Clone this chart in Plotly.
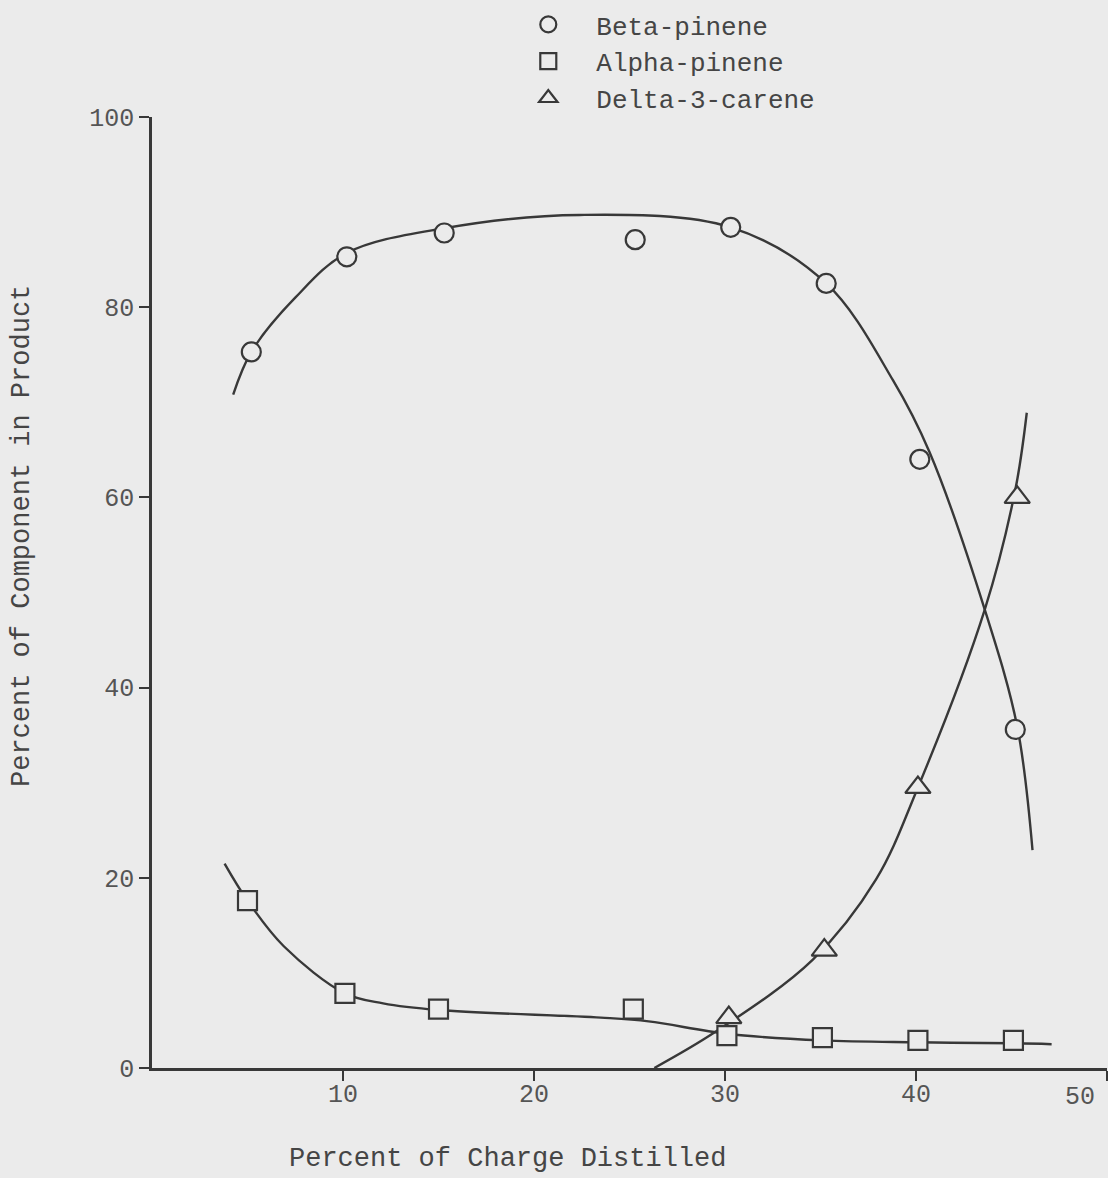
import plotly.graph_objects as go

# ---- data ----
beta_x = [5.2, 10.2, 15.3, 25.3, 30.3, 35.3, 40.2, 45.2]
beta_y = [75.3, 85.3, 87.8, 87.1, 88.4, 82.5, 64.0, 35.6]
alpha_x = [5.0, 10.1, 15.0, 25.2, 30.1, 35.1, 40.1, 45.1]
alpha_y = [17.6, 7.85, 6.2, 6.2, 3.4, 3.2, 2.9, 2.9]
delta_x = [30.2, 35.2, 40.1, 45.3]
delta_y = [5.3, 12.4, 29.5, 60.0]

# hand-drawn smooth curves
beta_curve_x = [4.25, 5.2, 7.5, 10.2, 15.3, 22.4, 30.3, 35.3, 38.8, 40.7, 43.6, 45.3, 46.1]
beta_curve_y = [70.8, 75.3, 81.0, 85.7, 88.3, 89.7, 88.4, 82.5, 72.3, 64.8, 48.2, 35.9, 22.9]
alpha_curve_x = [3.8, 5.0, 6.9, 10.1, 12.1, 15.0, 23.5, 26.0, 30.1, 35.1, 40.1, 45.1, 47.1]
alpha_curve_y = [21.5, 17.6, 12.8, 7.85, 6.8, 6.1, 5.3, 4.9, 3.6, 2.9, 2.7, 2.6, 2.5]
delta_curve_x = [26.3, 29.5, 34.6, 37.9, 40.1, 43.6, 45.2, 45.8]
delta_curve_y = [0.0, 3.8, 11.4, 19.8, 29.5, 48.2, 60.8, 68.9]

x_ticks = [10, 20, 30, 40, 50]
x_ticktext = ["10", "20", "30", "40", ""]
y_ticks = [0, 20, 40, 60, 80, 100]

names = ["Beta-pinene", "Alpha-pinene", "Delta-3-carene"]
x_title = "Percent of Charge Distilled"
y_title = "Percent of Component in Product"

BG = "#ebebeb"
INK = "#383838"
TXT = "#454545"
FONT = "Liberation Mono, Courier New, monospace"

# plot area in pixels
L, R, T, B = 152, 1, 117, 110
W, H = 1108, 1178
pw = W - L - R
ph = H - T - B


def px_to_paper(px, py):
    return (px - L) / pw, (H - B - py) / ph


fig = go.Figure()

line_style = dict(color=INK, width=2.4, shape="spline", smoothing=1.0)
for cx, cy in [(beta_curve_x, beta_curve_y), (alpha_curve_x, alpha_curve_y),
               (delta_curve_x, delta_curve_y)]:
    fig.add_trace(go.Scatter(x=cx, y=cy, mode="lines", line=line_style,
                             showlegend=False, hoverinfo="skip"))

marker_specs = [
    (beta_x, beta_y, "circle", 19, names[0]),
    (alpha_x, alpha_y, "square", 19, names[1]),
    (delta_x, delta_y, "triangle-up", 22, names[2]),
]
for mx, my, sym, sz, nm in marker_specs:
    fig.add_trace(go.Scatter(
        x=mx, y=my, mode="markers", name=nm,
        marker=dict(symbol=sym, size=sz, color=BG,
                    line=dict(color=INK, width=2.2)),
    ))

xt_x, xt_y = px_to_paper(507, 1159)
yt_x, yt_y = px_to_paper(22, 536)

fig.update_layout(
    width=W, height=H,
    margin=dict(l=L, r=R, t=T, b=B),
    paper_bgcolor=BG, plot_bgcolor=BG,
    font=dict(family=FONT, color=TXT, size=24),
    legend=dict(x=0.3647, y=1.122, xanchor="left", yanchor="top",
                bgcolor="rgba(0,0,0,0)", itemwidth=86,
                font=dict(family=FONT, size=26, color=TXT)),
    xaxis=dict(range=[0, 50], showgrid=False, zeroline=False,
               showline=True, linecolor=INK, linewidth=2.5,
               ticks="outside", ticklen=10, tickwidth=2, tickcolor=INK,
               tickvals=x_ticks, ticktext=x_ticktext, ticklabelstandoff=-9,
               tickfont=dict(family=FONT, size=25, color="#555555")),
    yaxis=dict(range=[0, 100], showgrid=False, zeroline=False,
               showline=True, linecolor=INK, linewidth=2.5,
               ticks="outside", ticklen=10, tickwidth=2, tickcolor=INK,
               tickvals=y_ticks,
               tickfont=dict(family=FONT, size=25, color="#555555")),
    annotations=[
        dict(text="50", x=48.6, y=0, xref="x", yref="y", yshift=-29,
             xanchor="center", yanchor="middle",
             showarrow=False, font=dict(family=FONT, size=25, color="#555555")),
        dict(text=x_title, x=xt_x, y=xt_y, xref="paper", yref="paper",
             xanchor="center", yanchor="middle", showarrow=False,
             font=dict(family=FONT, size=27, color=TXT)),
        dict(text=y_title, x=yt_x, y=yt_y, xref="paper", yref="paper",
             xanchor="center", yanchor="middle", showarrow=False,
             textangle=-90, font=dict(family=FONT, size=27, color=TXT)),
    ],
)

fig.write_html("out.html")
